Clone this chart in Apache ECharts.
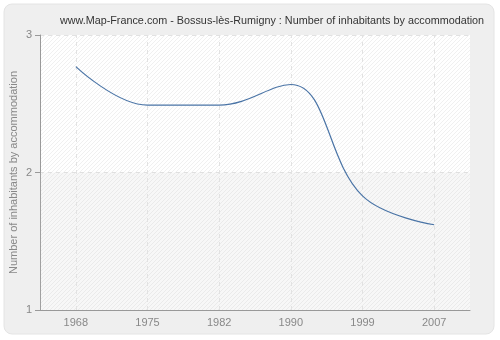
<!DOCTYPE html>
<html>
<head>
<meta charset="utf-8">
<script src="https://cdn.jsdelivr.net/npm/echarts@6/dist/echarts.min.js"></script>
<style>
  html, body { margin: 0; padding: 0; background: #ffffff; }
  #chart { width: 500px; height: 340px; }
</style>
</head>
<body>
<div id="chart"></div>
<script>
// Census years and average household size
const years = ['1968', '1975', '1982', '1990', '1999', '2007'];
const inhabitantsPerHome = [2.77, 2.49, 2.49, 2.64, 1.83, 1.62];
const yTicks = [1, 2, 3];

const titleText = 'www.Map-France.com - Bossus-lès-Rumigny : Number of inhabitants by accommodation';
const yAxisName = 'Number of inhabitants by accommodation';

const FONT = 'Liberation Sans';
const GRID_LINE = { color: '#e2e2e2', type: [4, 4], width: 1 };

// Diagonal hatch used as the plot background
function hatchPattern(bg, line) {
  const s = 4;
  const c = document.createElement('canvas');
  c.width = s; c.height = s;
  const g = c.getContext('2d');
  g.fillStyle = bg;
  g.fillRect(0, 0, s, s);
  g.strokeStyle = line;
  g.lineWidth = 1;
  g.beginPath();
  g.moveTo(0, s); g.lineTo(s, 0);
  g.moveTo(-s, s); g.lineTo(s, -s);
  g.moveTo(0, 2 * s); g.lineTo(2 * s, 0);
  g.stroke();
  return c;
}

const chart = echarts.init(document.getElementById('chart'), null, { renderer: 'canvas' });

chart.setOption({
  animation: false,
  backgroundColor: '#ffffff',
  graphic: [{
    type: 'rect',
    z: -10,
    shape: { x: 4, y: 4, width: 490, height: 330, r: 8 },
    style: { fill: '#efefef', stroke: '#e4e4e4', lineWidth: 1 },
    silent: true
  }],
  title: {
    text: titleText,
    left: 267,
    textAlign: 'center',
    top: 11,
    textStyle: { fontFamily: FONT, fontSize: 10.8, fontWeight: 'normal', color: '#333333' }
  },
  grid: {
    left: 40, right: 30, top: 35, bottom: 30,
    outerBoundsMode: 'none',
    containLabel: false,
    show: true,
    borderWidth: 0,
    backgroundColor: { image: hatchPattern('#ffffff', '#f0f0f0'), repeat: 'repeat' }
  },
  xAxis: {
    type: 'category',
    data: years,
    boundaryGap: true,
    axisLine: { lineStyle: { color: '#999999', width: 1 } },
    axisTick: { alignWithLabel: true, length: 5, lineStyle: { color: '#999999' } },
    axisLabel: { fontFamily: FONT, fontSize: 11, color: '#888888', margin: 7 },
    splitLine: { show: false }
  },
  yAxis: {
    type: 'value',
    min: yTicks[0],
    max: yTicks[yTicks.length - 1],
    interval: 1,
    name: yAxisName,
    nameLocation: 'middle',
    nameGap: 21,
    nameMoveOverlap: false,
    nameTextStyle: { fontFamily: FONT, fontSize: 11, color: '#888888' },
    axisLine: { show: true, lineStyle: { color: '#999999', width: 1 } },
    axisTick: { show: true, length: 5, lineStyle: { color: '#999999' } },
    axisLabel: { fontFamily: FONT, fontSize: 11, color: '#888888', margin: 8 },
    splitLine: { show: true, lineStyle: GRID_LINE }
  },
  series: [{
    type: 'line',
    data: inhabitantsPerHome,
    smooth: 0.4,
    symbol: 'none',
    z: 3,
    lineStyle: { color: '#4a74a6', width: 1.2 },
    // vertical dashed guides through each census year
    markLine: {
      silent: true,
      symbol: ['none', 'none'],
      label: { show: false },
      lineStyle: GRID_LINE,
      z: 1,
      data: years.map(y => ({ xAxis: y }))
    },
    markArea: {
      silent: true,
      itemStyle: { color: 'rgba(200,200,200,0.15)' },
      data: [[{ yAxis: yTicks[0] }, { yAxis: yTicks[1] }]]
    }
  }]
});
</script>
</body>
</html>
